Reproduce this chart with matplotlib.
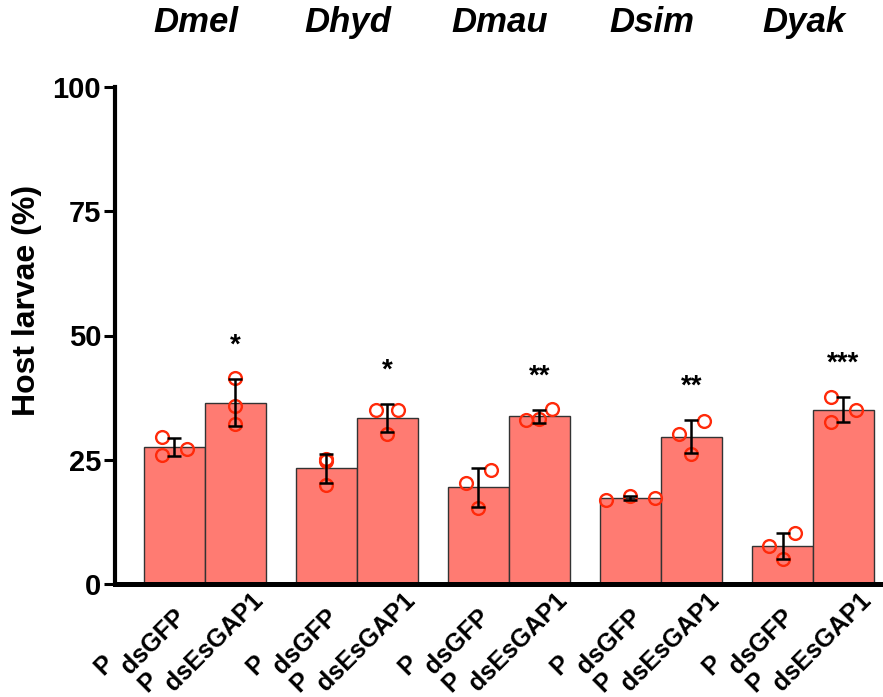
import matplotlib
matplotlib.use('Agg')
import matplotlib.pyplot as plt
import matplotlib.transforms as mtransforms
import numpy as np

plt.rcParams['font.family'] = ['Liberation Sans', 'DejaVu Sans']

# Data
species = ['Dmel', 'Dhyd', 'Dmau', 'Dsim', 'Dyak']
treatments = ['P dsGFP', 'P dsEsGAP1']

# replicate values (% host larvae), three per species
gfp_points = [
    [29.5, 26.0, 27.2],
    [24.8, 19.9, 25.2],
    [20.4, 15.2, 22.9],
    [16.9, 17.7, 17.4],
    [7.6, 5.1, 10.2],
]
gap_points = [
    [41.5, 35.8, 32.1],
    [35.0, 35.0, 30.2],
    [32.9, 33.1, 35.3],
    [30.1, 26.1, 32.7],
    [37.7, 32.5, 35.1],
]
stars = ['*', '*', '**', '**', '***']

# horizontal spread of the dots inside each bar (bar-width units)
gfp_dot_dx = [[-0.21, -0.21, 0.21], [0, 0, 0], [-0.21, 0, 0.21],
              [-0.4, 0, 0.4], [-0.22, 0, 0.2]]
gap_dot_dx = [[0, 0, 0], [-0.18, 0.18, 0], [-0.21, 0, 0.21],
              [-0.21, 0, 0.21], [-0.21, -0.21, 0.21]]

bar_color = '#ff7b72'
dot_color = '#ff2a0a'
group_step = 2.5
label_size = 18

fig = plt.figure(figsize=(8.83, 6.97), dpi=100)
ax = fig.add_axes([115 / 883, 113 / 697, 767 / 883, 497 / 697])

xpos_all = []
labels_all = []
for g, name in enumerate(species):
    for k, pts in enumerate([gfp_points[g], gap_points[g]]):
        x = g * group_step + k
        pts = np.array(pts)
        mean = pts.mean()
        sd = pts.std(ddof=1)
        ax.bar(x, mean, width=1.0, color=bar_color, edgecolor='#333333',
               linewidth=1.0, zorder=2)
        dx = gfp_dot_dx[g] if k == 0 else gap_dot_dx[g]
        ax.plot(x + np.array(dx), pts, 'o', ms=9.2, mfc='none', mec=dot_color,
                mew=1.7, zorder=3, clip_on=False)
        ax.errorbar(x, mean, yerr=sd, fmt='none', ecolor='black', elinewidth=1.8,
                    capsize=5, capthick=1.8, zorder=4)
        if k == 1:
            ax.text(x, mean + sd + 5.3, stars[g], ha='center', va='baseline',
                    fontsize=20, fontweight='bold')
        xpos_all.append(x)
        labels_all.append(treatments[k])

    # species title above each pair
    ax.text(g * group_step + 0.5 - 0.15, 1.129, name, transform=ax.get_xaxis_transform(),
            ha='center', va='center', fontsize=25, fontweight='bold', fontstyle='italic')

# rotated treatment labels: the construct name runs at 45 deg,
# the "P" sits just left of its first letter
renderer = fig.canvas.get_renderer()
c45 = np.cos(np.deg2rad(45))
for x, lab in zip(xpos_all, labels_all):
    prefix, gene = lab.split(' ', 1)
    t = ax.text(x, 0, gene, rotation=45, rotation_mode='anchor', ha='center',
                va='center', fontsize=label_size, fontweight='bold', clip_on=False,
                transform=ax.get_xaxis_transform()
                + mtransforms.ScaledTranslation(-0.21, -0.58, fig.dpi_scale_trans))
    w, h, d = renderer.get_text_width_height_descent(gene, t.get_fontproperties(), ismath=False)
    px = -21 - w / 2 * c45 - 20.7
    py = -58 - w / 2 * c45 + 5.3
    ax.text(x, 0, prefix, rotation=45, rotation_mode='anchor', ha='center',
            va='center', fontsize=label_size, fontweight='bold', clip_on=False,
            transform=ax.get_xaxis_transform()
            + mtransforms.ScaledTranslation(px / 100, py / 100, fig.dpi_scale_trans))

ax.set_xlim(-0.975, 11.635)
ax.set_ylim(0, 100)
ax.set_xticks([])
ax.set_yticks([0, 25, 50, 75, 100])
ax.set_yticklabels(['0', '25', '50', '75', '100'], fontsize=21, fontweight='bold')
ax.tick_params(axis='y', length=8, width=2.2, pad=2)

ax.spines['top'].set_visible(False)
ax.spines['right'].set_visible(False)
ax.spines['left'].set_linewidth(3.0)
ax.spines['bottom'].set_linewidth(3.6)

ax.set_ylabel('Host larvae (%)', fontsize=23, fontweight='bold')
ax.yaxis.set_label_coords(-0.095, 0.57)

fig.savefig('out.png', dpi=100, facecolor='white')
plt.close(fig)
